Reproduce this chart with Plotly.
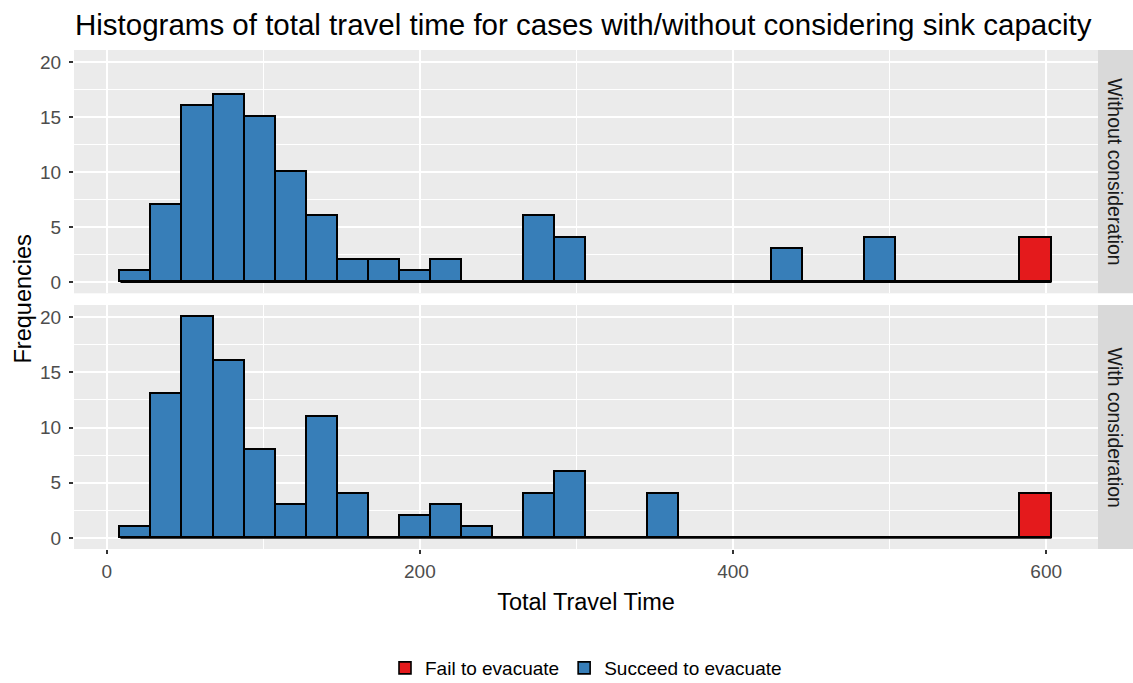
import plotly.graph_objects as go

# ---------------- data ----------------
bin_centers = [18.7, 38.5, 58.3, 78.2, 98.0, 117.8, 137.6, 157.4, 177.3, 197.1,
               216.9, 236.7, 256.5, 276.4, 296.2, 316.0, 335.8, 355.6, 375.5, 395.3,
               415.1, 434.9, 454.7, 474.6, 494.4, 514.2, 534.0, 553.8, 573.7, 593.5]
bin_width = 19.82

without_succeed = [1, 7, 16, 17, 15, 10, 6, 2, 2, 1, 2, 0, 0, 6, 4, 0, 0, 0, 0, 0,
                   0, 3, 0, 0, 4, 0, 0, 0, 0, 0]
without_fail = [0] * 29 + [4]
with_succeed = [1, 13, 20, 16, 8, 3, 11, 4, 0, 2, 3, 1, 0, 4, 6, 0, 0, 4, 0, 0,
                0, 0, 0, 0, 0, 0, 0, 0, 0, 0]
with_fail = [0] * 29 + [4]

panel_labels = ["Without consideration", "With consideration"]
group_labels = ["Fail to evacuate", "Succeed to evacuate"]
x_ticks = [0, 200, 400, 600]
y_ticks = [0, 5, 10, 15, 20]

# ---------------- style ----------------
FONT = "Liberation Sans, Arial, sans-serif"
RED = "#E41A1C"
BLUE = "#377EB8"
PANEL_BG = "#EBEBEB"
STRIP_BG = "#D9D9D9"

fig = go.Figure()

panels = [
    ("x", "y", without_fail, without_succeed, True),
    ("x2", "y2", with_fail, with_succeed, False),
]
for xa, ya, fail, succ, show in panels:
    fig.add_trace(go.Bar(
        x=bin_centers, y=fail, width=bin_width, name=group_labels[0],
        marker=dict(color=RED, line=dict(color="black", width=1.6)),
        xaxis=xa, yaxis=ya, showlegend=show, legendgroup="fail"))
    fig.add_trace(go.Bar(
        x=bin_centers, y=succ, width=bin_width, name=group_labels[1],
        marker=dict(color=BLUE, line=dict(color="black", width=1.6)),
        xaxis=xa, yaxis=ya, showlegend=show, legendgroup="succ"))
    # baseline outline of zero-height bins (as ggplot draws it)
    fig.add_trace(go.Scatter(
        x=[bin_centers[0] - bin_width / 2, bin_centers[-1] + bin_width / 2],
        y=[0, 0], mode="lines", line=dict(color="black", width=1.6),
        xaxis=xa, yaxis=ya, showlegend=False, hoverinfo="skip"))

xrange = [-20.9, 633.1]
yrange = [-1.0, 21.1]

common_x = dict(range=xrange, tickvals=x_ticks, showgrid=True, gridcolor="white",
                gridwidth=2, zeroline=False, showline=False,
                minor=dict(dtick=100, tick0=0, showgrid=True, gridcolor="white",
                           gridwidth=1, ticks=""))
common_y = dict(range=yrange, tickvals=y_ticks, showgrid=True, gridcolor="white",
                gridwidth=2, zeroline=False, showline=False,
                ticks="outside", ticklen=4, tickwidth=1.5, tickcolor="#333333",
                ticklabelstandoff=4,
                tickfont=dict(family=FONT, size=19, color="#4D4D4D"),
                minor=dict(dtick=2.5, tick0=0, showgrid=True, gridcolor="white",
                           gridwidth=1, ticks=""))

fig.update_layout(
    width=1133, height=683,
    margin=dict(l=74, r=35, t=50, b=134, autoexpand=False),
    paper_bgcolor="white",
    plot_bgcolor=PANEL_BG,
    barmode="stack",
    bargap=0,
    font=dict(family=FONT, color="black"),
    title=dict(text="Histograms of total travel time for cases with/without considering sink capacity",
               x=75 / 1133, xanchor="left", xref="container",
               y=1 - 25 / 683, yanchor="middle", yref="container",
               font=dict(family=FONT, size=29.5, color="black")),
    xaxis=dict(domain=[0, 1], anchor="y", matches="x2", showticklabels=False, ticks="",
               **common_x),
    xaxis2=dict(domain=[0, 1], anchor="y2", showticklabels=True, ticks="outside",
                ticklen=4, tickwidth=1.5, tickcolor="#333333",
                ticklabelstandoff=1,
                tickfont=dict(family=FONT, size=19, color="#4D4D4D"),
                title=dict(text="Total Travel Time", standoff=12,
                           font=dict(family=FONT, size=23.5, color="black")),
                **common_x),
    yaxis=dict(domain=[0.5124, 1.0], anchor="x", **common_y),
    yaxis2=dict(domain=[0.0, 0.4890], anchor="x2", **common_y),
    legend=dict(orientation="h", x=0.5, xanchor="center", y=-0.2385, yanchor="middle",
                font=dict(family=FONT, size=19, color="black"),
                bgcolor="rgba(0,0,0,0)", traceorder="normal", itemwidth=30),
)

# facet strips on the right
strip_x0 = 1.0
strip_x1 = (1133 - 74) / 1024
for (y0, y1), label in zip([(0.5124, 1.0), (0.0, 0.4890)], panel_labels):
    fig.add_shape(type="rect", xref="paper", yref="paper", x0=strip_x0, x1=strip_x1,
                  y0=y0, y1=y1, fillcolor=STRIP_BG, line=dict(width=0))
    fig.add_annotation(text=label, xref="paper", yref="paper",
                       x=(strip_x0 + strip_x1) / 2, y=(y0 + y1) / 2,
                       showarrow=False, textangle=90, xanchor="center", yanchor="middle",
                       font=dict(family=FONT, size=19.5, color="#1A1A1A"))

# shared y-axis title
fig.add_annotation(text="Frequencies", xref="paper", yref="paper",
                   x=(22 - 74) / 1024, y=0.5, showarrow=False, textangle=-90,
                   xanchor="center", yanchor="middle",
                   font=dict(family=FONT, size=23.5, color="black"))

fig.write_html("out.html",
               config={"displayModeBar": False},
               post_script="document.body.style.margin='0';document.body.style.overflow='hidden';")
